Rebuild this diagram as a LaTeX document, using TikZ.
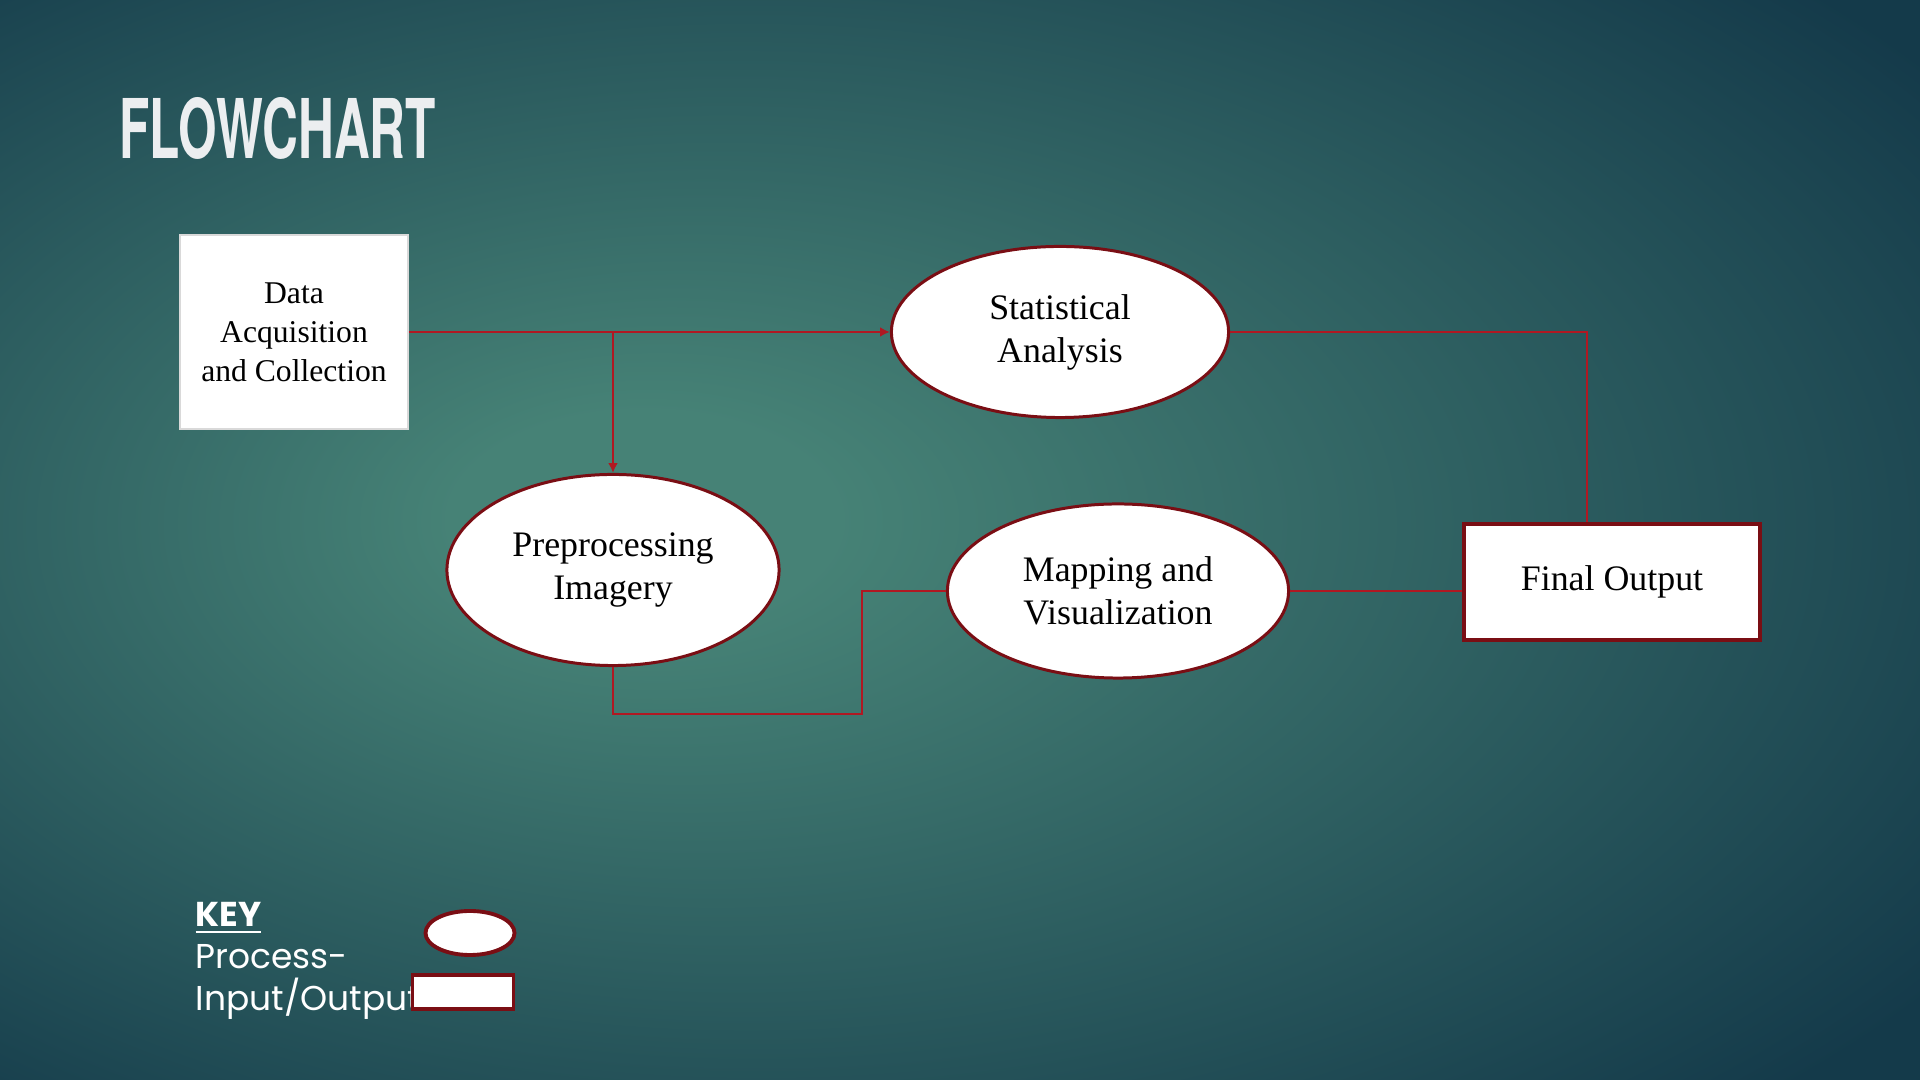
\documentclass[tikz,border=0pt]{standalone}
\usepackage{fontspec}
\setmainfont{Liberation Serif}
\newfontfamily\keyfont{Poppins}
\newfontfamily\titlefont{TeX Gyre Heros}
\usepackage{graphicx}
\usetikzlibrary{shapes.geometric}
\usetikzlibrary{arrows.meta}
\definecolor{bgin}{RGB}{70,130,118}
\definecolor{bgout}{RGB}{20,58,74}
\definecolor{linkred}{RGB}{176,24,34}
\definecolor{edgered}{RGB}{122,14,20}
\definecolor{titlegray}{RGB}{236,238,240}
\pgfdeclareradialshading{slide}{\pgfpoint{-9bp}{1bp}}{color(0bp)=(bgin); color(5bp)=(bgin); color(36bp)=(bgout); color(60bp)=(bgout)}
\tikzset{proc/.style={ellipse,draw=edgered,line width=0.85pt,fill=white,inner sep=0pt,align=center,font=\fontsize{10.2pt}{12.2pt}\selectfont},
iobox/.style={rectangle,draw=edgered,line width=1.1pt,fill=white,inner sep=0pt,align=center,font=\fontsize{10.2pt}{12.2pt}\selectfont},
link/.style={draw=linkred,line width=0.75pt},
keytext/.style={anchor=base west,inner sep=0pt,text=white,font=\keyfont\fontsize{9.8pt}{12pt}\selectfont},
>={Latex[length=2.8pt,width=2.8pt]}}

\begin{document}
\begin{tikzpicture}[x=0.01cm,y=-0.01cm]
\shade[shading=slide] (0,0) rectangle (1920,1080);
\useasboundingbox (0,0) rectangle (1920,1080);
\node (title) at (119,159) [anchor=base west,inner sep=0pt,text=titlegray] {\resizebox{3.16cm}{0.61cm}{\titlefont\bfseries FLOWCHART}};

% the chart
\node (data) at (294,332) [rectangle,fill=white,draw=gray!30,line width=0.4pt,minimum width=2.28cm,minimum height=1.94cm,align=center,font=\fontsize{9pt}{11.1pt}\selectfont] {Data\\Acquisition\\and Collection};
\node (stat) at (1060,332) [proc,minimum width=3.37cm,minimum height=1.71cm] {Statistical\\Analysis};
\node (prep) at (613,570) [proc,minimum width=3.32cm,minimum height=1.91cm] {Preprocessing\\Imagery};
\node (map) at (1118,591) [proc,minimum width=3.41cm,minimum height=1.74cm] {Mapping and\\Visualization};
\node (out) at (1612,582) [iobox,minimum width=2.96cm,minimum height=1.16cm] {Final Output};
\coordinate (bend) at (862,714);

\draw[link,->] (data.east) -- (stat.west);
\draw[link,->] (data.east -| prep.north) -- (prep.north);
\draw[link] (stat.east) -| ([xshift=-0.25cm]out.north);
\draw[link] (map.east) -- (map.east -| out.west);
\draw[link] (prep.south) |- (bend) |- (map.west);

% key
\node (khead) at (195,927) [keytext] {\bfseries\underline{KEY}};
\node (kl1) at (195,969) [keytext] {Process-};
\node (kl2) at (195,1011) [keytext] {Input/Output};
\node (kproc) at (470,933) [proc,line width=1.1pt,minimum width=0.89cm,minimum height=0.44cm] {};
\node (kio) at (463,992) [iobox,minimum width=1.01cm,minimum height=0.34cm] {};
\end{tikzpicture}
\end{document}
